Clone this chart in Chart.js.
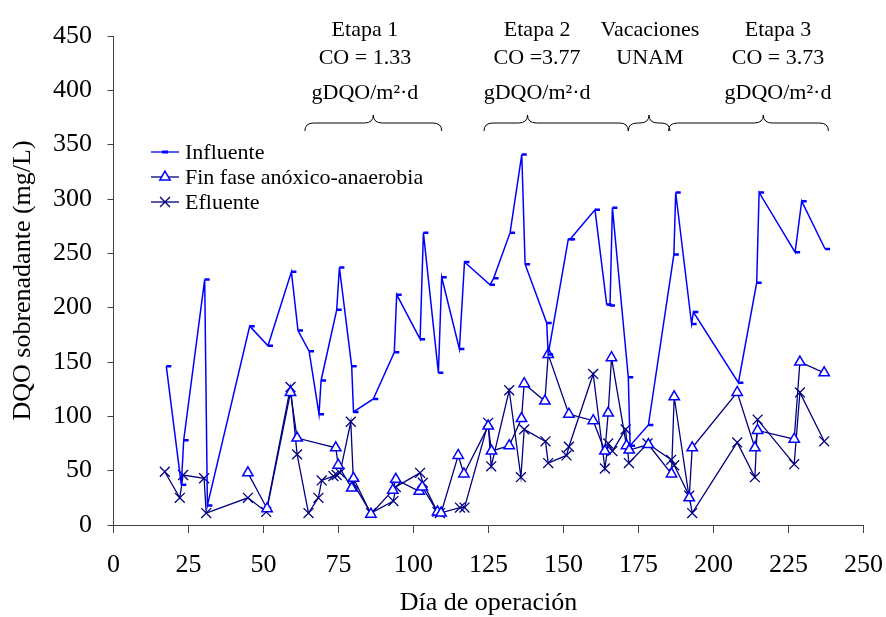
<!DOCTYPE html>
<html lang="es">
<head>
  <meta charset="UTF-8">
  <title>DQO sobrenadante</title>
  <script src="https://cdn.jsdelivr.net/npm/chart.js"></script>
  <style>
    body { margin: 0; background: #fff; }
    #wrap { width: 886px; height: 617px; position: relative; }
  </style>
</head>
<body>
  <div id="wrap"><canvas id="dqoChart"></canvas></div>

  <script>
    // días y valores
    const diasInfluente = [17.6, 22.6, 23.4, 30.4, 31.3, 45.4, 51.5, 59.3, 61.5, 65.2, 68.5, 69.2, 74.4, 75.3, 79.4, 80, 86.6, 93.6, 94.4, 102.2, 103.3, 108.3, 109.4, 115.3, 117, 125.5, 126.7, 132.2, 136.1, 137.2, 144.4, 144.9, 151.6, 152.2, 160.5, 164.4, 165.5, 166.3, 171.6, 172.2, 178.3, 186.8, 187.4, 192.7, 193.3, 208.3, 214.4, 215.2, 227.2, 229.4, 237.2];
    const influente = [146, 37, 78, 226, 18, 183, 165, 233, 179, 160, 102, 133, 198, 237, 146, 104, 116, 159, 212, 171, 269, 140, 228, 162, 242, 221, 227, 269, 341, 240, 186, 157, 263, 263, 290, 203, 202, 292, 136, 73, 92, 249, 306, 185, 196, 131, 223, 306, 251, 298, 254];

    const diasFinFase = [44.8, 51.2, 59, 61.2, 74.1, 74.9, 79.4, 80, 85.8, 93.1, 94.1, 101.9, 102.9, 108, 109.2, 114.9, 116.8, 124.9, 126, 131.9, 136, 136.9, 143.8, 144.9, 151.8, 159.9, 163.8, 164.9, 166, 171, 171.9, 178.3, 186, 186.9, 191.9, 192.9, 207.9, 213.8, 214.7, 226.9, 228.8, 236.9];
    const finFase = [48, 15, 122, 80, 71, 55, 34, 43, 10, 32, 42, 31, 35, 12, 11, 64, 47, 91, 68, 73, 98, 130, 114, 157, 102, 96, 68, 103, 154, 73, 69, 74, 47, 118, 25, 71, 122, 71, 87, 79, 150, 140];

    const diasEfluente = [17.1, 22.1, 23.2, 30.2, 30.9, 44.8, 50.9, 59, 61.2, 65, 68.3, 69.4, 73.3, 74.4, 75.5, 79.1, 80, 85.8, 93.3, 94.1, 102.2, 103.1, 108, 108.8, 115.5, 117, 124.9, 125.9, 131.9, 135.8, 136.9, 144, 144.9, 151, 151.8, 159.9, 163.8, 164.9, 166.3, 170.7, 171.8, 178, 185.9, 186.9, 191.9, 192.9, 207.9, 213.8, 214.7, 226.9, 228.8, 236.9];
    const efluente = [49, 25, 46, 43, 11, 25, 12, 127, 65, 11, 25, 41, 45, 46, 48, 95, 38, 11, 22, 35, 48, 39, 12, 11, 16, 16, 94, 54, 124, 44, 88, 77, 57, 64, 72, 139, 52, 75, 68, 88, 57, 75, 60, 55, 27, 11, 76, 44, 97, 56, 122, 77];

    const xTicks = [0, 25, 50, 75, 100, 125, 150, 175, 200, 225, 250];
    const yTicks = [0, 50, 100, 150, 200, 250, 300, 350, 400, 450];

    // etapas del experimento (texto arriba y llaves)
    const etapaTextos = [
      ['Etapa 1', 'CO = 1.33', 'gDQO/m²·d'],
      ['Etapa 2', 'CO =3.77', 'gDQO/m²·d'],
      ['Vacaciones', 'UNAM', ''],
      ['Etapa 3', 'CO = 3.73', 'gDQO/m²·d']
    ];
    const etapaCentro = [83.8, 141.2, 178.8, 221.5];
    const llaveInicio = [63.8, 123.5, 171.6, 185];
    const llaveFin = [109.4, 171.6, 185.5, 238.3];
    const llavePunta = [86.6, 138, 178.5, 216.6];

    const serif = '"Liberation Serif", "Times New Roman", serif';
    Chart.defaults.font.family = serif;
    Chart.defaults.color = '#000';

    function toXY(xs, ys) {
      return xs.map((x, i) => ({ x: x, y: ys[i] }));
    }

    function drawBrace(ctx, x1, x2, xt, yTop, yBot) {
      const ym = (yTop + yBot) / 2;
      const r = 9;
      ctx.beginPath();
      ctx.moveTo(x1, yBot);
      ctx.quadraticCurveTo(x1, ym, x1 + r, ym);
      ctx.lineTo(xt - r, ym);
      ctx.quadraticCurveTo(xt, ym, xt, yTop);
      ctx.quadraticCurveTo(xt, ym, xt + r, ym);
      ctx.lineTo(x2 - r, ym);
      ctx.quadraticCurveTo(x2, ym, x2, yBot);
      ctx.stroke();
    }

    const extras = {
      id: 'extras',
      afterDraw(chart) {
        const ctx = chart.ctx;
        const xs = chart.scales.x;
        ctx.save();

        // textos de etapas
        ctx.fillStyle = '#000';
        ctx.font = '22px ' + serif;
        ctx.textAlign = 'center';
        ctx.textBaseline = 'alphabetic';
        const baselines = [36, 64, 99];
        etapaTextos.forEach((lines, i) => {
          const cx = xs.getPixelForValue(etapaCentro[i]);
          lines.forEach((t, j) => { if (t) ctx.fillText(t, cx, baselines[j]); });
        });

        // llaves
        ctx.strokeStyle = '#000';
        ctx.lineWidth = 1;
        llaveInicio.forEach((v, i) => {
          drawBrace(ctx, xs.getPixelForValue(v), xs.getPixelForValue(llaveFin[i]),
            xs.getPixelForValue(llavePunta[i]), 115, 131);
        });

        // leyenda
        const rows = [152, 177, 202];
        const lx1 = 151, lx2 = 179, mx = 165;
        ctx.font = '22px ' + serif;
        ctx.textAlign = 'left';
        ctx.textBaseline = 'middle';
        chart.data.datasets.forEach((ds, i) => {
          const y = rows[i];
          ctx.strokeStyle = ds.borderColor;
          ctx.lineWidth = 1.3;
          ctx.beginPath();
          ctx.moveTo(lx1, y);
          ctx.lineTo(lx2, y);
          ctx.stroke();
          if (ds.pointStyle === 'dash') {
            ctx.fillStyle = ds.pointBorderColor;
            ctx.fillRect(mx - 3, y - 1.5, 6, 3);
          } else {
            ctx.strokeStyle = ds.pointBorderColor;
            ctx.fillStyle = ds.pointBackgroundColor;
            ctx.lineWidth = ds.pointBorderWidth;
            Chart.helpers.drawPoint(ctx, {
              pointStyle: ds.pointStyle, radius: ds.pointRadius,
              borderWidth: ds.pointBorderWidth, rotation: 0
            }, mx, y);
          }
          ctx.fillStyle = '#000';
          ctx.fillText(ds.label, 185, y + 1);
        });
        ctx.restore();
      }
    };

    const ctx = document.getElementById('dqoChart').getContext('2d');
    new Chart(ctx, {
      type: 'line',
      data: {
        datasets: [{
          label: 'Influente',
          data: toXY(diasInfluente, influente),
          borderColor: '#0000ff',
          borderWidth: 1.5,
          pointStyle: 'dash',
          pointRadius: 5,
          pointBorderWidth: 2.5,
          pointBorderColor: '#0000ff',
          pointBackgroundColor: '#0000ff',
          tension: 0,
          fill: false
        }, {
          label: 'Fin fase anóxico-anaerobia',
          data: toXY(diasFinFase, finFase),
          borderColor: '#000080',
          borderWidth: 1.3,
          pointStyle: 'triangle',
          pointRadius: 6,
          pointBorderWidth: 1.5,
          pointBorderColor: '#0000ff',
          pointBackgroundColor: '#ffffff',
          tension: 0,
          fill: false
        }, {
          label: 'Efluente',
          data: toXY(diasEfluente, efluente),
          borderColor: '#000080',
          borderWidth: 1.3,
          pointStyle: 'crossRot',
          pointRadius: 7,
          pointBorderWidth: 1.3,
          pointBorderColor: '#000080',
          pointBackgroundColor: '#000080',
          tension: 0,
          fill: false
        }]
      },
      options: {
        responsive: true,
        maintainAspectRatio: false,
        animation: false,
        layout: { padding: { top: 36, right: 22.5, left: 0, bottom: 0 } },
        plugins: {
          legend: { display: false },
          tooltip: { enabled: false }
        },
        scales: {
          x: {
            type: 'linear',
            min: 0,
            max: 250,
            afterBuildTicks: s => { s.ticks = xTicks.map(v => ({ value: v })); },
            afterFit: s => { s.height = 92; s.paddingLeft = 0; s.paddingRight = 0; },
            grid: { drawOnChartArea: false, drawTicks: true, tickLength: 8, tickColor: '#404040' },
            border: { color: '#404040', width: 1 },
            ticks: { font: { size: 26 }, color: '#000', padding: 17, maxRotation: 0, autoSkip: false },
            title: {
              display: true, text: 'Día de operación', color: '#000',
              font: { size: 26, lineHeight: 1 }, padding: { top: 0, bottom: 1 }
            }
          },
          y: {
            min: 0,
            max: 450,
            afterBuildTicks: s => { s.ticks = yTicks.map(v => ({ value: v })); },
            afterFit: s => { s.width = 113.5; s.paddingTop = 0; s.paddingBottom = 0; },
            grid: { drawOnChartArea: false, drawTicks: true, tickLength: 6, tickColor: '#404040' },
            border: { color: '#404040', width: 1 },
            ticks: { font: { size: 26 }, color: '#000', padding: 15.5 },
            title: {
              display: true, text: 'DQO sobrenadante (mg/L)', color: '#000',
              font: { size: 26, lineHeight: 1 }, padding: { top: 10, bottom: 0 }
            }
          }
        }
      },
      plugins: [extras]
    });
  </script>
</body>
</html>
